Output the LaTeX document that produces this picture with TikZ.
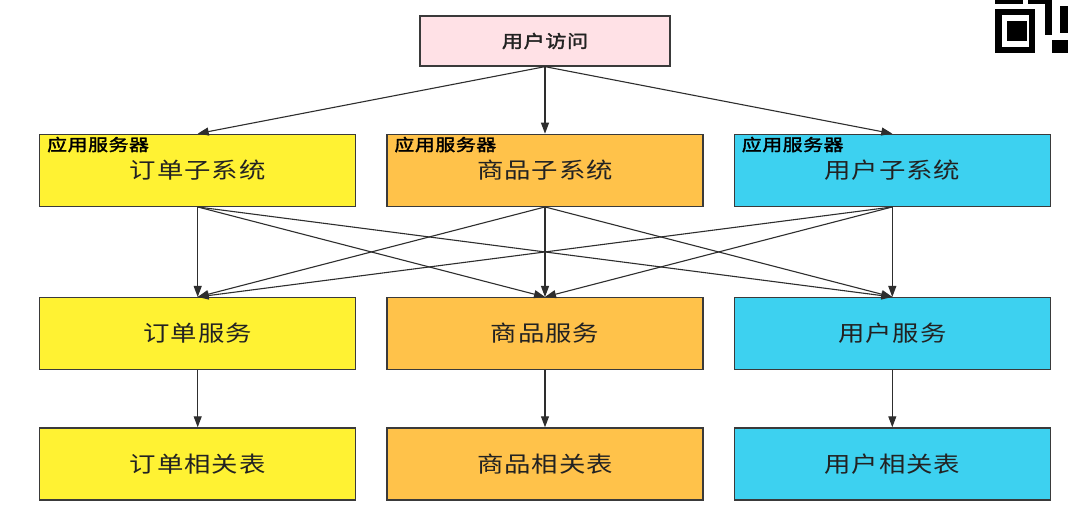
\documentclass[tikz,border=0pt]{standalone}
\usepackage{fontspec}
\newfontfamily\cjk[FakeStretch=1.2,LetterSpace=4]{Noto Sans CJK SC}
\newfontfamily\cjkb[FakeStretch=1.2,LetterSpace=4,FakeBold=2]{Noto Sans CJK SC}
\usetikzlibrary{arrows.meta,positioning}
\definecolor{pinkfill}{HTML}{FFE1E6}
\definecolor{yelfill}{HTML}{FFF233}
\definecolor{orgfill}{HTML}{FFC24A}
\definecolor{cyanfill}{HTML}{3DD1F0}
\definecolor{boxline}{HTML}{3A3A3A}
\definecolor{linegray}{HTML}{2E2E2E}
\definecolor{txtgray}{HTML}{222222}
\tikzset{
  topbox/.style={rectangle, draw=boxline, line width=1.3pt, fill=pinkfill,
                 minimum width=250pt, minimum height=50pt, inner sep=0pt,
                 text=txtgray, font=\cjkb\fontsize{17.5}{17.5}\selectfont},
  sysbox/.style={rectangle, draw=boxline, line width=1.3pt,
                 minimum width=316pt, minimum height=72pt, inner sep=0pt,
                 text=txtgray, font=\cjk\fontsize{22}{22}\selectfont},
  svrlbl/.style={inner sep=0pt, text=black,
                 font=\cjkb\fontsize{16.5}{16.5}\selectfont},
  arrow/.style={-{Triangle[length=11pt,width=8pt]}, draw=linegray,
                line width=1.1pt}
}
\begin{document}
\begin{tikzpicture}[x=1pt,y=1pt]
  \useasboundingbox[fill=white] (0,0) rectangle (1068,-506);
  % entry
  \node[topbox] (visit) at (545,-41) {用户访问};
  % application servers
  \node[sysbox, fill=orgfill, below=67pt of visit] (prodsys) {\raisebox{-2pt}{商品子系统}};
  \node[sysbox, fill=yelfill, left=30pt of prodsys] (ordsys) {\raisebox{-2pt}{订单子系统}};
  \node[sysbox, fill=cyanfill, right=30pt of prodsys] (usersys) {\raisebox{-2pt}{用户子系统}};
  \foreach \s in {ordsys,prodsys,usersys}
    \node[svrlbl, anchor=north west] (\s lbl) at ([xshift=8pt,yshift=-3pt]\s.north west) {应用服务器};
  % services
  \node[sysbox, fill=yelfill, below=90pt of ordsys] (ordsvc) {订单服务};
  \node[sysbox, fill=orgfill, below=90pt of prodsys] (prodsvc) {商品服务};
  \node[sysbox, fill=cyanfill, below=90pt of usersys] (usersvc) {用户服务};
  % tables
  \node[sysbox, fill=yelfill, below=57pt of ordsvc] (ordtbl) {订单相关表};
  \node[sysbox, fill=orgfill, below=57pt of prodsvc] (prodtbl) {商品相关表};
  \node[sysbox, fill=cyanfill, below=57pt of usersvc] (usertbl) {用户相关表};
  \foreach \s in {ordsys,prodsys,usersys}
    \draw[arrow] (visit.south) -- (\s.north);
  \foreach \s in {ordsys,prodsys,usersys}
    \foreach \t in {ordsvc,prodsvc,usersvc}
      \draw[arrow] (\s.south) -- (\t.north);
  \draw[arrow] (ordsvc) -- (ordtbl);
  \draw[arrow] (prodsvc) -- (prodtbl);
  \draw[arrow] (usersvc) -- (usertbl);
  % corner code mark
  \fill[black] (995,-9) rectangle (1035,-53);
  \fill[white] (1002,-15) rectangle (1029,-47);
  \fill[black] (1007,-21) rectangle (1027,-41);
  \fill[black] (995,0) rectangle (1023,-4);
  \fill[black] (1028,0) rectangle (1045,-4);
  \fill[black] (1045,0) rectangle (1052,-35);
  \fill[black] (1060,-6) rectangle (1068,-33);
  \fill[black] (1052,-40) rectangle (1068,-53);
\end{tikzpicture}
\end{document}
